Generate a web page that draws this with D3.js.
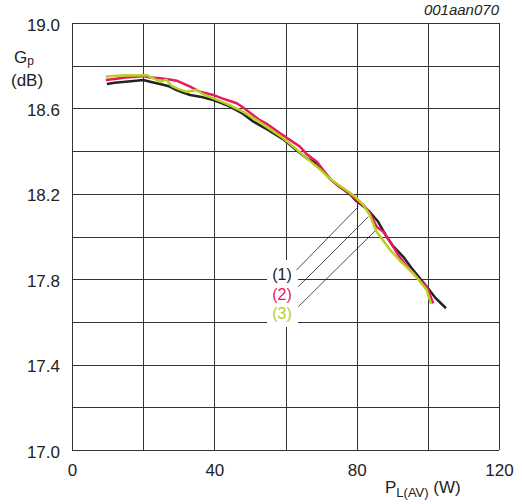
<!DOCTYPE html>
<html><head><meta charset="utf-8">
<script src="https://cdn.jsdelivr.net/npm/d3@7"></script>
<style>body{margin:0;background:#fff}svg{display:block;font-family:"Liberation Sans",Arial,sans-serif}</style>
</head><body><svg id="c" width="522" height="504"></svg>
<script>
const xTicks = [0, 40, 80, 120];
const yTicks = [17.0, 17.4, 17.8, 18.2, 18.6, 19.0];
const seriesNames = ["(1)", "(2)", "(3)"];
const seriesColors = ["#222222", "#e8195e", "#b7cf1e"];

const x1 = [9.8,12,15,18,20,22,24.7,27,29.4,31,33.2,36,39.7,42,44.4,48,51,55,59.4,63,66,68.8,72.5,75,78.1,80,82,83.7,86,88.4,90,93.1,96,99.7,102,105.1];
const y1 = [18.714,18.72,18.725,18.73,18.733,18.725,18.714,18.705,18.686,18.675,18.663,18.655,18.639,18.625,18.608,18.575,18.538,18.5,18.455,18.405,18.366,18.343,18.27,18.235,18.198,18.165,18.14,18.115,18.07,18.0,17.96,17.905,17.84,17.765,17.715,17.664];
const x2 = [9.5,12,15,18,20,22,24.7,27,29.4,31,33.2,36,39.7,42,46.3,48,52.8,55,58.5,64.1,66,68.8,72.5,75,78.1,80,81.9,83.7,85.6,87.5,90,92,95,97.5,99.7,101.5];
const y2 = [18.733,18.738,18.745,18.748,18.752,18.745,18.741,18.737,18.73,18.718,18.702,18.678,18.663,18.648,18.624,18.605,18.545,18.525,18.483,18.42,18.385,18.35,18.27,18.235,18.2,18.17,18.148,18.11,18.046,18.022,17.96,17.905,17.843,17.8,17.765,17.687];
const x3 = [9.5,12,15,18,21,23,24.7,26.5,28,30,32.2,35,37,39.7,42,45,48,51.9,55,59.4,63,66,70,72.5,75,78.1,80,82,83.7,85.6,87.5,89.4,92,95.9,98,99.7,100.9];
const y3 = [18.749,18.752,18.755,18.754,18.756,18.74,18.725,18.735,18.705,18.69,18.678,18.686,18.665,18.647,18.632,18.61,18.585,18.545,18.51,18.46,18.41,18.366,18.31,18.27,18.24,18.205,18.18,18.145,18.1,18.022,17.98,17.937,17.89,17.828,17.785,17.749,17.684];

// leader lines: label end and curve point (data units)
const leaderStart = [[63.1,17.843],[63.6,17.765],[63.6,17.671]];
const leaderEnd = [[80.5,18.14],[83.3,18.093],[85.4,18.03]];

const svg = d3.select("#c");
const L = 72, R = 499, T = 23, B = 450;
const x = d3.scaleLinear().domain([0,120]).range([L,R]);
const y = d3.scaleLinear().domain([17,19]).range([B,T]);
const FONT = "Liberation Sans, Arial, sans-serif";

const g = svg.append("g");
const gx = d3.range(0,121,20), gy = d3.range(17,19.01,0.2);
g.selectAll(".vg").data(gx).join("line")
  .attr("x1",d=>Math.round(x(d))+0.5).attr("x2",d=>Math.round(x(d))+0.5)
  .attr("y1",T).attr("y2",B).attr("stroke","#333").attr("stroke-width",1);
g.selectAll(".hg").data(gy).join("line")
  .attr("y1",d=>Math.round(y(d))+0.5).attr("y2",d=>Math.round(y(d))+0.5)
  .attr("x1",L).attr("x2",R).attr("stroke","#333").attr("stroke-width",1);

// label background
svg.append("rect").attr("x",267).attr("y",260).attr("width",31).attr("height",67).attr("fill","#fff");

const yAxis = d3.axisLeft(y).tickValues(yTicks).tickFormat(d3.format(".1f")).tickSize(0).tickPadding(12);
const ya = svg.append("g").attr("transform",`translate(${L},0)`).call(yAxis);
ya.select(".domain").remove();
ya.selectAll("text").attr("font-size",17).attr("dy","0.42em").attr("fill","#222").attr("font-family",FONT);
const xAxis = d3.axisBottom(x).tickValues(xTicks).tickFormat(d3.format("d")).tickSize(0).tickPadding(14);
const xa = svg.append("g").attr("transform",`translate(0,${B})`).call(xAxis);
xa.select(".domain").remove();
xa.selectAll("text").attr("font-size",17).attr("fill","#222").attr("font-family",FONT);

svg.selectAll(".ld").data(leaderStart).join("line")
  .attr("x1",d=>x(d[0])).attr("y1",d=>y(d[1]))
  .attr("x2",(d,i)=>x(leaderEnd[i][0])).attr("y2",(d,i)=>y(leaderEnd[i][1]))
  .attr("stroke","#222").attr("stroke-width",0.8);

const series = [[x1,y1],[x2,y2],[x3,y3]];
const line = d3.line().x(d=>x(d[0])).y(d=>y(d[1])).curve(d3.curveLinear);
[0,1,2].forEach(i=>{
  const pts = series[i][0].map((v,j)=>[v, series[i][1][j]]);
  svg.append("path").datum(pts).attr("d",line).attr("fill","none")
    .attr("stroke",seriesColors[i]).attr("stroke-width",2.5).attr("stroke-linejoin","round");
});

svg.selectAll(".sl").data(seriesNames).join("text")
  .attr("x",282).attr("y",(d,i)=>[280,300,319][i])
  .attr("text-anchor","middle").attr("font-size",16)
  .attr("fill",(d,i)=>seriesColors[i]).text(d=>d);

const gt = svg.append("text").attr("x",14).attr("y",63).attr("font-size",17).attr("fill","#222");
gt.append("tspan").text("G");
gt.append("tspan").attr("font-size",12).attr("dy",2).text("p");
svg.append("text").attr("x",11).attr("y",86).attr("font-size",17).attr("fill","#222").text("(dB)");

const xt = svg.append("text").attr("x",385).attr("y",493).attr("font-size",17).attr("fill","#222");
xt.append("tspan").text("P");
xt.append("tspan").attr("font-size",13).attr("dy",4).text("L(AV)");
xt.append("tspan").attr("dy",-4).text(" (W)");

svg.append("text").attr("x",499).attr("y",15).attr("text-anchor","end").attr("font-size",15)
  .attr("font-style","italic").attr("fill","#222").text("001aan070");
</script></body></html>
